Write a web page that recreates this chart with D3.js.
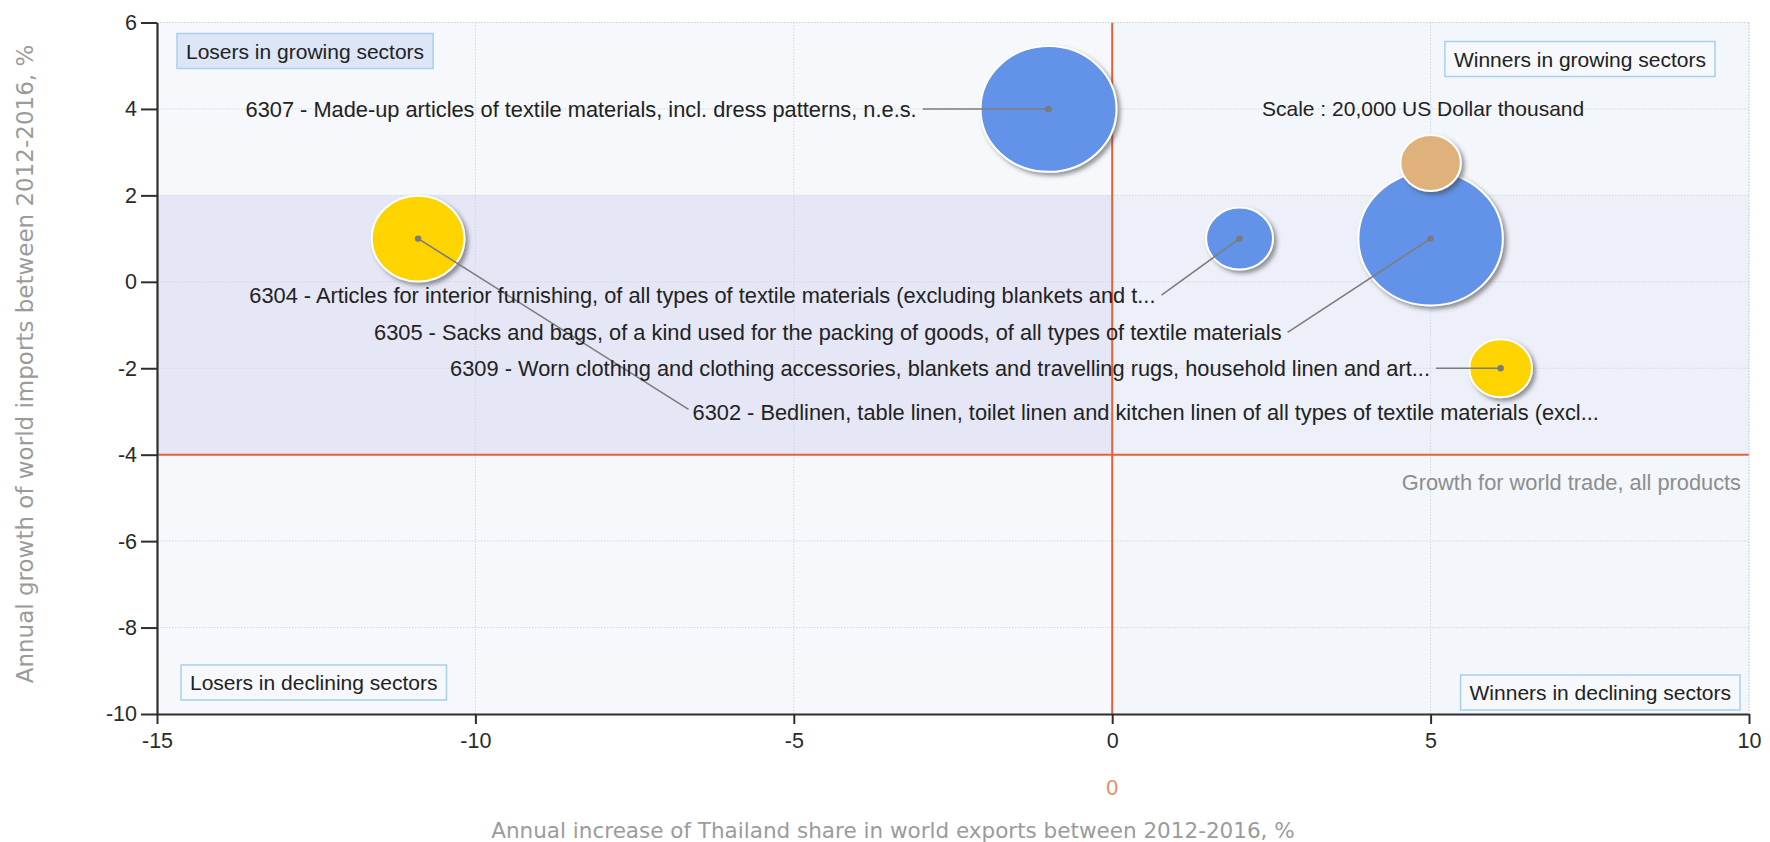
<!DOCTYPE html>
<html>
<head>
<meta charset="utf-8">
<script src="https://cdn.jsdelivr.net/npm/d3@7"></script>
<style>
  html, body { margin: 0; padding: 0; background: #ffffff; }
  svg { display: block; }
  text { font-family: "Liberation Sans", Arial, sans-serif; }
</style>
</head>
<body>
<svg id="chart" width="1770" height="842"></svg>
<script>
// ---------------- data ----------------
const xTicks = [-15, -10, -5, 0, 5, 10];
const yTicks = [6, 4, 2, 0, -2, -4, -6, -8, -10];
const codes = ["6307", "6304", "6305", "6309", "6302"];
const labels = [
  "6307 - Made-up articles of textile materials, incl. dress patterns, n.e.s.",
  "6304 - Articles for interior furnishing, of all types of textile materials (excluding blankets and t...",
  "6305 - Sacks and bags, of a kind used for the packing of goods, of all types of textile materials",
  "6309 - Worn clothing and clothing accessories, blankets and travelling rugs, household linen and art...",
  "6302 - Bedlinen, table linen, toilet linen and kitchen linen of all types of textile materials (excl..."
];
const shareGrowth = [-1, 2, 5, 6.1, -10.9];     // x: annual increase of Thailand share, %
const importGrowth = [4, 1, 1, -2, 1];          // y: annual growth of world imports, %
const exportValue = [101000, 24500, 114000, 21500, 47000]; // US$ thousand (bubble size)
const scaleValue = 20000;
const scalePoint = [5, 2.75];
const worldGrowth = -4;
const quadrantNames = ["Losers in growing sectors", "Winners in growing sectors",
                       "Losers in declining sectors", "Winners in declining sectors"];
const xTitle = "Annual increase of Thailand share in world exports between 2012-2016, %";
const yTitle = "Annual growth of world imports between 2012-2016, %";
const scaleText = "Scale : 20,000 US Dollar thousand";
const worldText = "Growth for world trade, all products";

// ---------------- styles / layout ----------------
const colorOf = { "6307": "#6293e8", "6304": "#6293e8", "6305": "#6293e8", "6309": "#fdd304", "6302": "#fdd304" };
const scaleColor = "#dfb27c";
// label anchor (data units) + text-anchor
const labelLayout = {
  "6307": { x: -3.07, y: 4.0, anchor: "end" },
  "6304": { x: 0.68, y: -0.31, anchor: "end" },
  "6305": { x: 2.66, y: -1.17, anchor: "end" },
  "6309": { x: 4.99, y: -2.0, anchor: "end" },
  "6302": { x: -6.59, y: -3.02, anchor: "start" }
};
const labelFont = "21.8px";

const L = 157, R = 1749, T = 22.5, B = 714;
const svg = d3.select("#chart");

const x = d3.scaleLinear().domain([-15, 10]).range([L, R]);
const y = d3.scaleLinear().domain([-10, 6]).range([B, T]);
const r = d3.scaleSqrt().domain([0, scaleValue]).range([0, 28]);
const aspect = 1.08;
const fmt = d => String(d);

const defs = svg.append("defs");
const f = defs.append("filter").attr("id", "shadow").attr("x", "-20%").attr("y", "-20%").attr("width", "150%").attr("height", "150%");
f.append("feDropShadow").attr("dx", 3).attr("dy", 3).attr("stdDeviation", 2)
  .attr("flood-color", "#444").attr("flood-opacity", 0.55);

// ---------------- background regions ----------------
svg.append("rect").attr("x", L).attr("y", T).attr("width", R - L).attr("height", B - T).attr("fill", "#f6f8fc");
svg.append("rect").attr("x", x(0)).attr("y", T).attr("width", R - x(0)).attr("height", B - T).attr("fill", "#f3f6fb");
svg.append("rect").attr("x", L).attr("y", y(2)).attr("width", R - L).attr("height", y(worldGrowth) - y(2)).attr("fill", "#edeff9");
svg.append("rect").attr("x", L).attr("y", y(2)).attr("width", x(0) - L).attr("height", y(worldGrowth) - y(2)).attr("fill", "#e5e6f6");

// ---------------- grid ----------------
const grid = svg.append("g").attr("stroke", "#d3d8e0").attr("stroke-width", 1).attr("stroke-dasharray", "1.5,1.5");
grid.selectAll("line.gx").data(xTicks.filter(d => d !== 0 && d !== -15)).join("line")
  .attr("x1", d => x(d)).attr("x2", d => x(d)).attr("y1", T).attr("y2", B);
grid.selectAll("line.gy").data(yTicks.filter(d => d !== worldGrowth && d !== -10)).join("line")
  .attr("x1", L).attr("x2", R).attr("y1", d => y(d)).attr("y2", d => y(d));

// reference lines
svg.append("line").attr("x1", x(0)).attr("x2", x(0)).attr("y1", T).attr("y2", B)
  .attr("stroke", "#ec5f35").attr("stroke-width", 2);
svg.append("line").attr("x1", L).attr("x2", R).attr("y1", y(worldGrowth)).attr("y2", y(worldGrowth))
  .attr("stroke", "#ec5f35").attr("stroke-width", 2);

// ---------------- axes ----------------
const xAxis = svg.append("g").attr("transform", `translate(0,${B})`)
  .call(d3.axisBottom(x).tickValues(xTicks).tickSize(10).tickSizeOuter(0).tickPadding(8).tickFormat(fmt));
const yAxis = svg.append("g").attr("transform", `translate(${L},0)`)
  .call(d3.axisLeft(y).tickValues(yTicks).tickSize(16).tickSizeOuter(0).tickPadding(4).tickFormat(fmt));
[xAxis, yAxis].forEach(a => {
  a.select(".domain").attr("stroke", "#2e2e2e").attr("stroke-width", 2.2);
  a.selectAll(".tick line").attr("stroke", "#2e2e2e").attr("stroke-width", 2);
  a.selectAll(".tick text").attr("fill", "#2a2a2a").style("font-size", "21.5px")
    .style("font-family", "'Liberation Sans', Arial, sans-serif");
});
xAxis.selectAll(".tick text").attr("dy", "0.75em");

// ---------------- quadrant boxes ----------------
const boxes = [
  { x: L + 20, y: T + 11, fill: "#dde6f6", anchorRight: false },
  { x: R - 34, y: T + 19, fill: "#f6f8fc", anchorRight: true },
  { x: L + 24, y: B - 49, fill: "#f6f8fc", anchorRight: false },
  { x: R - 9, y: B - 39, fill: "#f6f8fc", anchorRight: true }
];
quadrantNames.forEach((name, i) => {
  const b = boxes[i];
  const g = svg.append("g");
  const rect = g.append("rect");
  const t = g.append("text").text(name).style("font-size", "21px").attr("fill", "#222");
  const tw = t.node().getComputedTextLength();
  const bw = tw + 18, bh = 35;
  const bx = b.anchorRight ? b.x - bw : b.x;
  rect.attr("x", bx).attr("y", b.y).attr("width", bw).attr("height", bh)
    .attr("fill", b.fill).attr("stroke", "#a6d0ee").attr("stroke-width", 1.5);
  t.attr("x", bx + 9).attr("y", b.y + bh / 2).attr("dy", "0.36em");
});

// ---------------- bubbles ----------------
const rows = codes.map((c, i) => ({ code: c, label: labels[i], x: shareGrowth[i], y: importGrowth[i], v: exportValue[i] }));

svg.append("g").selectAll("ellipse").data(rows).join("ellipse")
  .attr("cx", d => x(d.x)).attr("cy", d => y(d.y))
  .attr("rx", d => r(d.v) * aspect).attr("ry", d => r(d.v))
  .attr("fill", d => colorOf[d.code]).attr("stroke", "#ffffff").attr("stroke-width", 2)
  .attr("filter", "url(#shadow)");

// scale bubble
svg.append("ellipse").attr("cx", x(scalePoint[0])).attr("cy", y(scalePoint[1]))
  .attr("rx", r(scaleValue) * aspect).attr("ry", r(scaleValue))
  .attr("fill", scaleColor).attr("stroke", "#ffffff").attr("stroke-width", 2)
  .attr("filter", "url(#shadow)");

// ---------------- labels & leader lines ----------------
const lab = svg.append("g");
rows.forEach(d => {
  const lay = labelLayout[d.code];
  const lx = x(lay.x), ly = y(lay.y);
  lab.append("text").attr("x", lx).attr("y", ly).attr("dy", "0.36em")
    .attr("text-anchor", lay.anchor).style("font-size", labelFont).attr("fill", "#222").text(d.label);
  const sx = lay.anchor === "end" ? lx + 6 : lx - 4;
  const sy = lay.anchor === "end" ? ly : ly - 3;
  lab.insert("line", "text").attr("x1", sx).attr("y1", sy).attr("x2", x(d.x)).attr("y2", y(d.y))
    .attr("stroke", "#7d7d7d").attr("stroke-width", 1.6);
  lab.append("circle").attr("cx", x(d.x)).attr("cy", y(d.y)).attr("r", 3.2).attr("fill", "#7a7a7a");
});

// scale caption
svg.append("text").attr("x", 1262).attr("y", y(4)).attr("dy", "0.36em")
  .style("font-size", "21px").attr("fill", "#222").text(scaleText);

// world growth caption
svg.append("text").attr("x", R - 8).attr("y", y(worldGrowth) + 27).attr("dy", "0.36em")
  .attr("text-anchor", "end").style("font-size", "21.8px").attr("fill", "#8d8d8d").text(worldText);

// orange zero marker under the axis
svg.append("text").attr("x", x(0)).attr("y", 787).attr("dy", "0.36em").attr("text-anchor", "middle")
  .style("font-size", "21.5px").attr("fill", "#f28a5e").text("0");

// axis titles
svg.append("text").attr("x", (L + R) / 2 - 60).attr("y", 830).attr("dy", "0.36em")
  .attr("text-anchor", "middle").style("font-family", "'DejaVu Sans', Verdana, sans-serif")
  .style("font-size", "21.5px").attr("fill", "#9b9b9b").text(xTitle);
svg.append("text").attr("transform", `translate(25,364) rotate(-90)`).attr("dy", "0.36em")
  .attr("text-anchor", "middle").style("font-family", "'DejaVu Sans', Verdana, sans-serif")
  .style("font-size", "23px").attr("fill", "#9b9b9b").text(yTitle);

// plot border (dotted top/right)
svg.append("line").attr("x1", L).attr("x2", R).attr("y1", T).attr("y2", T)
  .attr("stroke", "#cfd4dc").attr("stroke-dasharray", "1.5,1.5");
svg.append("line").attr("x1", R).attr("x2", R).attr("y1", T).attr("y2", B)
  .attr("stroke", "#cfd4dc").attr("stroke-dasharray", "1.5,1.5");
</script>
</body>
</html>
